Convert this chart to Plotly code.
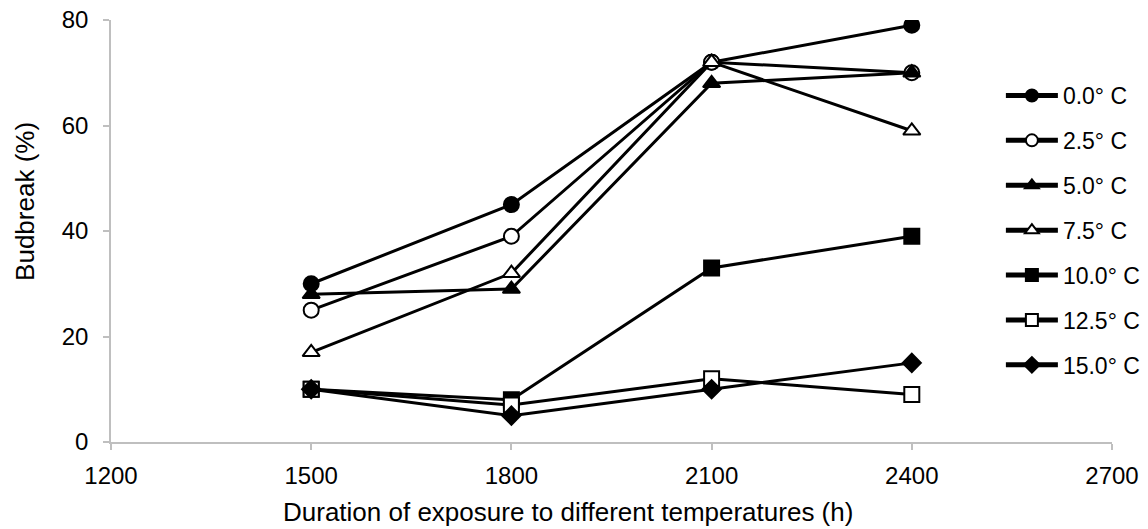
import plotly.graph_objects as go

# Exposure durations (h)
durations = [1500, 1800, 2100, 2400]

# Budbreak (%) for each chilling temperature
budbreak_00 = [30, 45, 72, 79]
budbreak_25 = [25, 39, 72, 70]
budbreak_50 = [28, 29, 68, 70]
budbreak_75 = [17, 32, 72, 59]
budbreak_100 = [10, 8, 33, 39]
budbreak_125 = [10, 7, 12, 9]
budbreak_150 = [10, 5, 10, 15]

series_names = ["0.0° C", "2.5° C", "5.0° C", "7.5° C", "10.0° C", "12.5° C", "15.0° C"]
series_values = [budbreak_00, budbreak_25, budbreak_50, budbreak_75,
                 budbreak_100, budbreak_125, budbreak_150]
symbols = ["circle", "circle-open", "triangle-up", "triangle-up-open",
           "square", "square-open", "diamond"]

x_ticks = [1200, 1500, 1800, 2100, 2400, 2700]
y_ticks = [0, 20, 40, 60, 80]

FONT = "Liberation Sans, Arial, sans-serif"

fig = go.Figure()
for i, (name, vals, sym) in enumerate(zip(series_names, series_values, symbols)):
    open_marker = sym.endswith("-open")
    fig.add_trace(go.Scatter(
        x=durations, y=vals, name=name, mode="lines+markers",
        legendgroup=f"g{i}",
        line=dict(color="black", width=3),
        marker=dict(
            symbol=sym.replace("-open", ""),
            size=15 if sym != "diamond" else 14,
            color="white" if open_marker else "black",
            line=dict(color="black", width=2),
        ),
    ))

fig.update_layout(
    width=1148, height=529,
    margin=dict(l=111, r=36, t=20, b=87, autoexpand=False),
    paper_bgcolor="white", plot_bgcolor="white",
    font=dict(family=FONT, size=24, color="#000000"),
    showlegend=True,
    legend=dict(
        x=0.889, y=0.872, xanchor="left", yanchor="top",
        bgcolor="rgba(0,0,0,0)", borderwidth=0,
        font=dict(family=FONT, size=23, color="#000000"),
        itemwidth=52, tracegroupgap=12, itemsizing="constant",
    ),
    xaxis=dict(
        range=[1200, 2700], tickvals=x_ticks,
        showgrid=False, zeroline=False, automargin=False,
        showline=True, linecolor="#BFBFBF", linewidth=1.5,
        ticks="outside", ticklen=6, tickcolor="#BFBFBF", tickwidth=1.5,
        tickfont=dict(size=24), ticklabelstandoff=5,
    ),
    yaxis=dict(
        range=[0, 80], tickvals=y_ticks,
        showgrid=False, zeroline=False, automargin=False,
        showline=True, linecolor="#BFBFBF", linewidth=1.5,
        ticks="outside", ticklen=6, tickcolor="#BFBFBF", tickwidth=1.5,
        tickfont=dict(size=24), ticklabelstandoff=10,
    ),
    annotations=[
        dict(text="Duration of exposure to different temperatures (h)",
             xref="paper", yref="paper", x=0.4565, y=-0.166,
             xanchor="center", yanchor="middle", showarrow=False,
             font=dict(family=FONT, size=26, color="#000000")),
        dict(text="Budbreak (%)", textangle=-90,
             xref="paper", yref="paper", x=-0.0859, y=0.569,
             xanchor="center", yanchor="middle", showarrow=False,
             font=dict(family=FONT, size=26, color="#000000")),
    ],
)

fig.write_html("out.html")
